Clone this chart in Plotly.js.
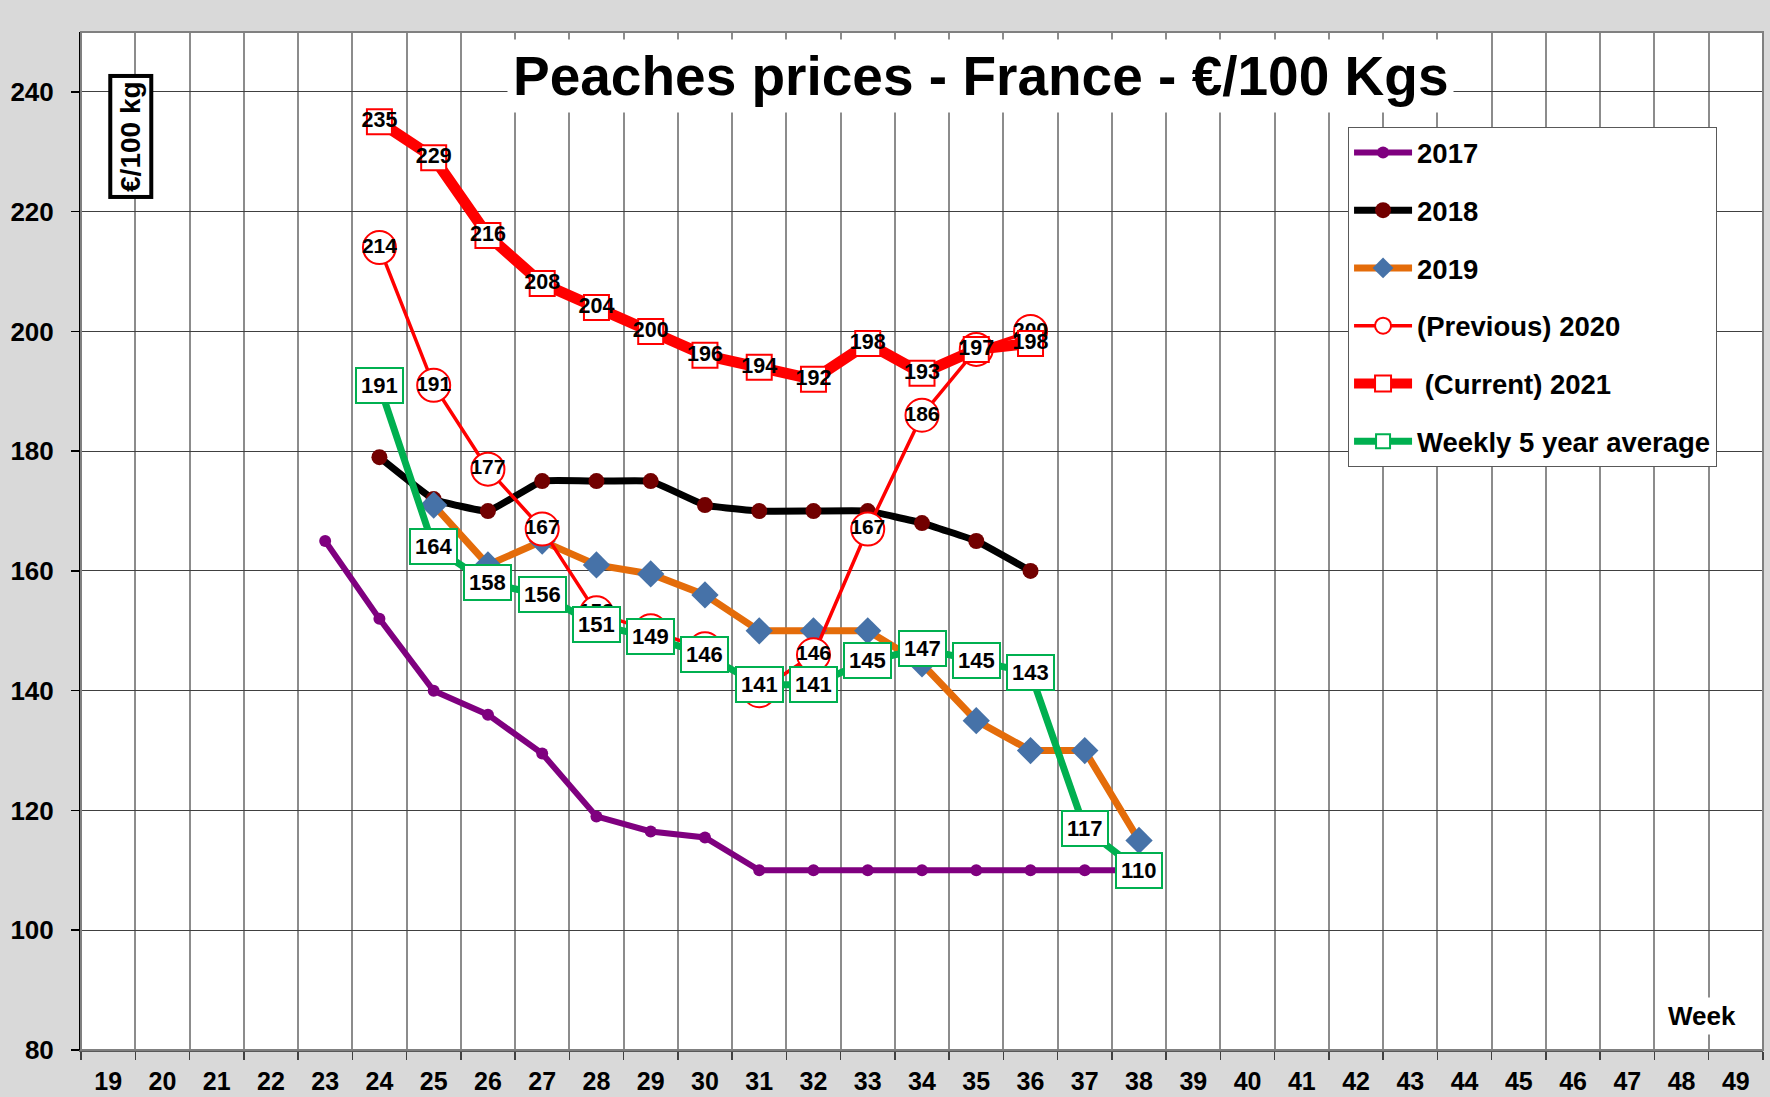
<!DOCTYPE html>
<html>
<head>
<meta charset="utf-8">
<script src="https://cdn.plot.ly/plotly-3.0.1.min.js"></script>
<style>html,body{margin:0;padding:0;background:#fff;}#chart{width:1770px;height:1097px;}</style>
</head>
<body>
<div id="chart"></div>
<script>
// ---- data ----
const weekLabels = ['19','20','21','22','23','24','25','26','27','28','29','30','31','32','33','34','35','36','37','38','39','40','41','42','43','44','45','46','47','48','49'];
const yTicks = [80, 100, 120, 140, 160, 180, 200, 220, 240];

const weeks2017 = [23,24,25,26,27,28,29,30,31,32,33,34,35,36,37,38];
const vals2017  = [165,152,140,136,129.5,119,116.5,115.5,110,110,110,110,110,110,110,110];

const weeks2018 = [24,25,26,27,28,29,30,31,32,33,34,35,36];
const vals2018  = [179,172,170,175,175,175,171,170,170,170,168,165,160];

const weeks2019 = [25,26,27,28,29,30,31,32,33,34,35,36,37,38];
const vals2019  = [171,161,165,161,159.5,156,150,150,150,144.5,135,130,130,115];

const weeks2020 = [24,25,26,27,28,29,30,31,32,33,34,35,36];
const vals2020  = [214,191,177,167,153,150,147,140,146,167,186,197,200];

const weeks2021 = [24,25,26,27,28,29,30,31,32,33,34,35,36];
const vals2021  = [235,229,216,208,204,200,196,194,192,198,193,197,198];

const weeksAvg = [24,25,26,27,28,29,30,31,32,33,34,35,36,37,38];
const valsAvg  = [191,164,158,156,151,149,146,141,141,145,147,145,143,117,110];

const seriesNames = ['2017', '2018', '2019', '(Previous) 2020', '\u00a0(Current) 2021', 'Weekly 5 year average'];

// ---- styling ----
const BASE = 'Liberation Sans, Arial, sans-serif';
const NARROW = 'Liberation Sans Narrow, Arial Narrow, Liberation Sans, Arial, sans-serif';
const S = w => w.map(String);
// category axis position (index) of a week
const catIdx = w => weekLabels.indexOf(String(w));

const traces = [
  {x: S(weeks2017), y: vals2017, name: seriesNames[0], mode: 'lines+markers', legendgroup: 'g1',
   line: {color: '#7f007f', width: 6}, marker: {color: '#7f007f', size: 12, symbol: 'circle'}},
  {x: S(weeks2018), y: vals2018, name: seriesNames[1], mode: 'lines+markers', legendgroup: 'g2',
   line: {color: '#000000', width: 7, shape: 'spline', smoothing: 0.3}, marker: {color: '#720000', size: 16, symbol: 'circle'}},
  {x: S(weeks2019), y: vals2019, name: seriesNames[2], mode: 'lines+markers', legendgroup: 'g3',
   line: {color: '#e46c0a', width: 7}, marker: {color: '#4672a8', size: 21, symbol: 'diamond'}},
  {x: S(weeks2020), y: vals2020, name: seriesNames[3], mode: 'lines+markers+text', legendgroup: 'g4',
   text: vals2020.map(String), textposition: 'middle center',
   textfont: {family: NARROW, size: 21, color: '#000', weight: 'bold'},
   line: {color: '#ff0000', width: 3.5},
   marker: {color: '#ffffff', size: 33, symbol: 'circle', line: {color: '#ff0000', width: 2}}},
  {x: S(weeks2021), y: vals2021, name: seriesNames[4], mode: 'lines+markers+text', legendgroup: 'g5',
   text: vals2021.map(String), textposition: 'middle center',
   textfont: {family: BASE, size: 21.5, color: '#000', weight: 'bold'},
   line: {color: '#ff0000', width: 11},
   marker: {color: '#ffffff', size: 25, symbol: 'square', line: {color: '#ff0000', width: 2}}},
  {x: S(weeksAvg), y: valsAvg, name: seriesNames[5], mode: 'lines+markers', legendgroup: 'g6',
   line: {color: '#00b050', width: 7},
   marker: {color: '#ffffff', size: 14, symbol: 'square', line: {color: '#00b050', width: 2}}}
];

const annotations = weeksAvg.map((w, i) => ({
  x: catIdx(w), y: valsAvg[i], xref: 'x', yref: 'y', text: String(valsAvg[i]), showarrow: false,
  bgcolor: '#ffffff', bordercolor: '#00b050', borderwidth: 2, borderpad: 4,
  font: {family: NARROW, size: 22, color: '#000', weight: 'bold'}
}));

annotations.push({
  xref: 'paper', yref: 'paper', x: 0.535, y: 0.9564, xanchor: 'center', yanchor: 'middle',
  text: 'Peaches prices - France - €/100 Kgs', showarrow: false,
  bgcolor: '#ffffff', borderpad: 5,
  font: {family: BASE, size: 55, color: '#000', weight: 'bold'}
});
annotations.push({
  xref: 'paper', yref: 'paper', x: 0.0295, y: 0.8975, xanchor: 'center', yanchor: 'middle',
  text: '€/100 kg', textangle: -90, showarrow: false,
  bgcolor: '#ffffff', bordercolor: '#000000', borderwidth: 4, borderpad: 3,
  font: {family: BASE, size: 28, color: '#000', weight: 'bold'}
});
annotations.push({
  xref: 'paper', yref: 'paper', x: 0.9637, y: 0.0332, xanchor: 'center', yanchor: 'middle',
  text: 'Week', showarrow: false, bgcolor: '#ffffff', borderpad: 3,
  font: {family: NARROW, size: 26, color: '#000', weight: 'bold'}
});

const layout = {
  width: 1770, height: 1097,
  margin: {l: 81, r: 7, t: 32, b: 47, pad: 0},
  paper_bgcolor: '#d9d9d9', plot_bgcolor: '#ffffff',
  font: {family: BASE, color: '#000', weight: 'bold'},
  showlegend: true,
  legend: {
    x: 0.7533, y: 0.9066, xanchor: 'left', yanchor: 'top',
    bgcolor: '#ffffff', bordercolor: '#595959', borderwidth: 1,
    traceorder: 'grouped', tracegroupgap: 19,
    font: {family: BASE, size: 27.5, color: '#000', weight: 'bold'},
    itemwidth: 58
  },
  xaxis: {
    type: 'category', categoryorder: 'array', categoryarray: weekLabels,
    tickvals: weekLabels, ticktext: weekLabels,
    range: [-0.5, weekLabels.length - 0.5], tickson: 'boundaries',
    showgrid: true, gridcolor: '#8c8c8c', gridwidth: 2,
    ticks: 'outside', ticklen: 8, tickcolor: '#404040', tickwidth: 1.5,
    showline: true, linecolor: '#595959', linewidth: 2, mirror: false,
    tickfont: {family: BASE, size: 25, color: '#000', weight: 'bold'},
    ticklabelstandoff: 8, fixedrange: true, zeroline: false
  },
  yaxis: {
    range: [80, 250], tickvals: yTicks, ticktext: yTicks.map(String),
    showgrid: true, gridcolor: '#404040', gridwidth: 1,
    ticks: 'outside', ticklen: 8, tickcolor: '#000', tickwidth: 1.5,
    showline: true, linecolor: '#000000', linewidth: 2,
    tickfont: {family: BASE, size: 26, color: '#000', weight: 'bold'},
    ticklabelstandoff: 12, zeroline: false, fixedrange: true
  },
  shapes: [
    {type: 'rect', xref: 'paper', yref: 'paper', x0: 0, x1: 1, y0: 0, y1: 1,
     line: {color: '#808080', width: 2}, fillcolor: 'rgba(0,0,0,0)', layer: 'above'}
  ],
  annotations: annotations
};

Plotly.newPlot('chart', traces, layout, {displayModeBar: false, staticPlot: true});
</script>
</body>
</html>
